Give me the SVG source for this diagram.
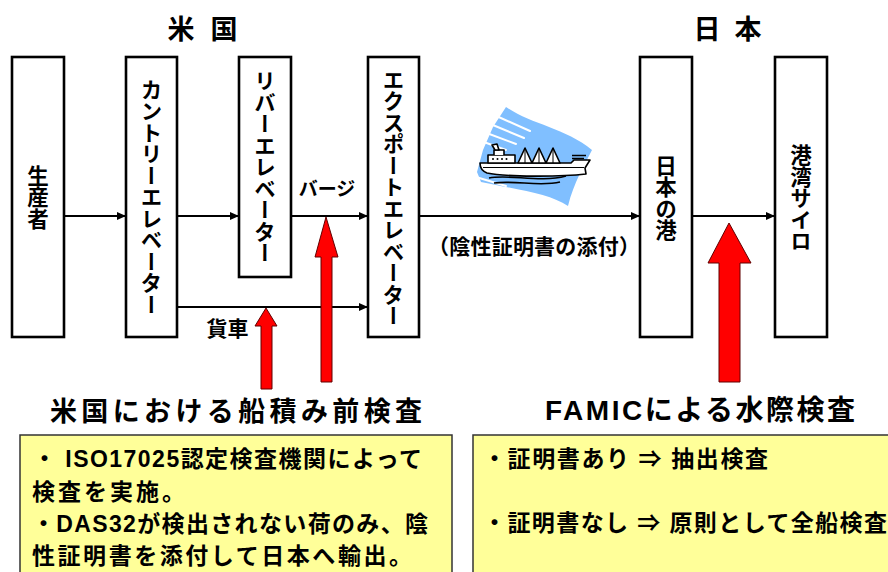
<svg xmlns="http://www.w3.org/2000/svg" width="888" height="572" viewBox="0 0 888 572">
  <defs>
    <style>
      .box { fill: #ffffff; stroke: #000000; stroke-width: 2.6; }
      .vtxt { font-family: "Noto Sans CJK JP", sans-serif; font-weight: bold; font-size: 21.5px; fill: #000; writing-mode: vertical-rl; text-anchor: middle; }
      .lbl { font-family: "Liberation Sans", "Noto Sans CJK JP", sans-serif; font-weight: bold; fill: #000; }
      .flow { fill: none; stroke: #000; stroke-width: 2; marker-end: url(#head); }
      .check { fill: #ff0000; stroke: #600000; stroke-width: 1; }
      .note { fill: #ffff99; stroke: #333333; stroke-width: 1.5; }
      .ink { fill: #ffffff; stroke: #000000; stroke-width: 1.6; stroke-linejoin: round; }
    </style>
    <marker id="head" markerUnits="userSpaceOnUse" markerWidth="10" markerHeight="8" refX="9" refY="4" orient="auto">
      <path d="M0,0 L9,4 L0,8 Z" fill="#000"/>
    </marker>
  </defs>

  <rect width="888" height="572" fill="#ffffff"/>

  <!-- country headings -->
  <g class="lbl" font-size="27" text-anchor="middle">
    <text x="181" y="39">米</text>
    <text x="224" y="39">国</text>
    <text x="707" y="39">日</text>
    <text x="748" y="39">本</text>
  </g>

  <!-- nodes -->
  <g id="producer">
    <rect class="box" x="12" y="57" width="52" height="280"/>
    <text class="vtxt" x="38" y="197">生産者</text>
  </g>
  <g id="country-elevator">
    <rect class="box" x="126" y="57" width="51" height="280"/>
    <text class="vtxt" x="151.5" y="197">カントリーエレベーター</text>
  </g>
  <g id="river-elevator">
    <rect class="box" x="239" y="57" width="52" height="220"/>
    <text class="vtxt" x="265" y="167">リバーエレベーター</text>
  </g>
  <g id="export-elevator">
    <rect class="box" x="368" y="57" width="51" height="280"/>
    <text class="vtxt" x="393.5" y="198">エクスポートエレベーター</text>
  </g>
  <g id="japan-port">
    <rect class="box" x="640" y="57" width="52" height="280"/>
    <text class="vtxt" x="666" y="198">日本の港</text>
  </g>
  <g id="port-silo">
    <rect class="box" x="775" y="57" width="52" height="280"/>
    <text class="vtxt" x="801" y="198">港湾サイロ</text>
  </g>

  <!-- ship crossing the ocean -->
  <g id="ship">
    <path d="M506,107 C530,124 565,128 592,150 C584,166 574,182 568,206 C550,194 520,190 481,182 L477,172 L483,150 L493,127 Z" fill="#80bfff"/>
    <g stroke="#ffffff" stroke-width="2" fill="none" stroke-linecap="round">
      <path d="M492,114 L530,131"/>
      <path d="M488,123 L524,138"/>
      <path d="M484,132 L516,144"/>
      <path d="M481,141 L506,150"/>
      <path d="M476,177 L506,186"/>
      <path d="M478,184 L520,192"/>
    </g>
    <path class="ink" d="M480,163 L571,163 L574,160 L590,160 L585,168 L586,174 C560,177 505,177 487,173 C482,171 480,167 480,163 Z"/>
    <path d="M483,167.5 L584,167.5" stroke="#000" stroke-width="1.2"/>
    <rect class="ink" x="488" y="155" width="27" height="8"/>
    <path class="ink" d="M494,155 L494,150 L504,150 L504,155"/>
    <path class="ink" d="M492,145 L497,144 L499,150 L495,150 Z"/>
    <g fill="#000">
      <circle cx="493" cy="159" r="1"/>
      <circle cx="497.5" cy="159" r="1"/>
      <circle cx="502" cy="159" r="1"/>
      <circle cx="506.5" cy="159" r="1"/>
    </g>
    <path class="ink" d="M518,163 L525,148 L532,163 Z M532,163 L539,148 L546,163 Z M546,163 L553,148 L560,163 Z"/>
    <path d="M525,150 V163 M539,150 V163 M553,150 V163" stroke="#000" stroke-width="1"/>
    <path d="M572,155.5 H586 M572,158.5 H584" stroke="#000" stroke-width="1.6"/>
    <g stroke="#000" stroke-width="1.6" fill="none">
      <path d="M489,178 C510,174 540,183 566,176"/>
      <path d="M494,183 C515,180 540,187 560,182"/>
    </g>
  </g>

  <!-- connectors -->
  <g id="connectors">
    <path class="flow" d="M64,216 H126"/>
    <path class="flow" d="M177,216 H239"/>
    <path class="flow" d="M291,216 H368"/>
    <path class="flow" d="M177,307 H368"/>
    <path class="flow" d="M419,216 H640"/>
    <path class="flow" d="M692,216 H775"/>
    <text class="lbl" x="327" y="196" font-size="19" text-anchor="middle">バージ</text>
    <text class="lbl" x="227.5" y="336" font-size="21" text-anchor="middle">貨車</text>
    <text class="lbl" x="534" y="254" font-size="21" text-anchor="middle" textLength="212" lengthAdjust="spacing">（陰性証明書の添付）</text>
  </g>

  <!-- inspection points -->
  <g id="inspection-arrows">
    <polygon class="check" points="266,308 277,326 272,326 272,389 261,389 261,326 255,326"/>
    <polygon class="check" points="326,217 338,257 332,257 332,382 321,382 321,257 315,257"/>
    <polygon class="check" points="729,223 751,263 740,263 740,382 719,382 719,263 708,263"/>
  </g>

  <!-- inspection headings -->
  <text class="lbl" x="50" y="421" font-size="27" textLength="372" lengthAdjust="spacing">米国における船積み前検査</text>
  <text class="lbl" x="545" y="420" font-size="28" textLength="310" lengthAdjust="spacing">FAMICによる水際検査</text>

  <!-- notes -->
  <g id="us-note">
    <rect class="note" x="20" y="435" width="432" height="150"/>
    <text class="lbl" font-size="23">
      <tspan x="33" y="467" textLength="389" lengthAdjust="spacing">・ ISO17025認定検査機関によって</tspan>
      <tspan x="32" y="500" textLength="153" lengthAdjust="spacing">検査を実施。</tspan>
      <tspan x="32" y="532" textLength="396" lengthAdjust="spacing">・DAS32が検出されない荷のみ、陰</tspan>
      <tspan x="32" y="564" textLength="380" lengthAdjust="spacing">性証明書を添付して日本へ輸出。</tspan>
    </text>
  </g>
  <g id="japan-note">
    <rect class="note" x="473" y="435" width="430" height="150"/>
    <text class="lbl" font-size="23">
      <tspan x="483" y="467" textLength="285" lengthAdjust="spacing">・証明書あり ⇒ 抽出検査</tspan>
      <tspan x="483" y="531" textLength="404" lengthAdjust="spacing">・証明書なし ⇒ 原則として全船検査</tspan>
    </text>
  </g>
</svg>
